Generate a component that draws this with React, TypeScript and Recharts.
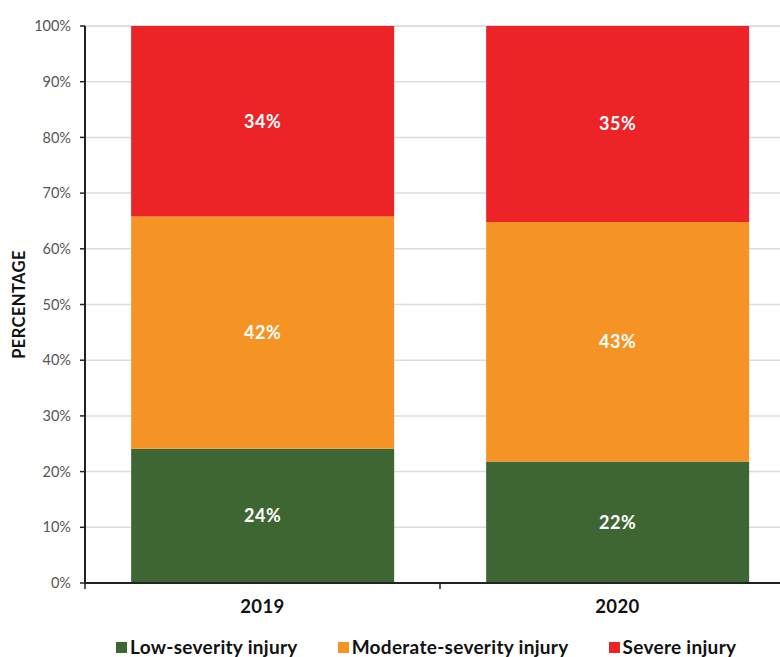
import * as React from "react"
import { Bar, BarChart, CartesianGrid, LabelList, Legend, XAxis, YAxis } from "recharts"

const years = ["2019", "2020"]
const lowSeverity = [24.1, 21.8]
const moderateSeverity = [41.7, 43.0]
const severe = [34.2, 35.2]
const yTicks = [0, 10, 20, 30, 40, 50, 60, 70, 80, 90, 100]

const seriesNames = ["Low-severity injury", "Moderate-severity injury", "Severe injury"]
const seriesColors = ["#3E6633", "#F59324", "#EC2327"]

const FONT = "Lato, 'Open Sans', sans-serif"

const data = years.map((year, i) => ({
  year,
  low: lowSeverity[i],
  moderate: moderateSeverity[i],
  severe: severe[i],
}))

// category label in the middle, tick mark on the band boundary
const YearTick = (props: any) => {
  const { x, y, payload } = props
  const off = payload && typeof payload.offset === "number" ? payload.offset : 177.5
  return (
    <g>
      <line x1={x - off} x2={x - off} y1={y} y2={y + 6} stroke="#222" strokeWidth={1.5} />
      <text
        x={x}
        y={y + 30}
        textAnchor="middle"
        fill="#111"
        fontSize={18.5}
        fontWeight={700}
        fontFamily={FONT}
        letterSpacing={0.4}
      >
        {payload.value}
      </text>
    </g>
  )
}

const LegendContent = () => (
  <div
    style={{
      display: "flex",
      height: 34,
      paddingTop: 14,
      paddingLeft: 116,
      boxSizing: "border-box",
      fontFamily: FONT,
      fontWeight: 700,
      fontSize: 19,
      letterSpacing: 0.3,
      lineHeight: "20px",
      color: "#111",
      whiteSpace: "nowrap",
    }}
  >
    {seriesNames.map((name, i) => (
      <div key={name} style={{ display: "flex", alignItems: "center", marginRight: 40 }}>
        <span
          style={{
            display: "inline-block",
            width: 11,
            height: 11,
            background: seriesColors[i],
            marginRight: 3,
          }}
        />
        {name}
      </div>
    ))}
  </div>
)

const pct = (v: any) => `${Math.round(Number(v))}%`

export default function App() {
  const labelStyle = { fill: "#fff", fontSize: 18, fontWeight: 700, fontFamily: FONT, letterSpacing: 0.5 }
  return (
    <div
      style={{
        position: "absolute",
        left: 0,
        top: 0,
        width: 780,
        height: 657,
        overflow: "hidden",
        background: "#fff",
      }}
    >
      <BarChart
        width={800}
        height={657}
        data={data}
        margin={{ top: 26, right: 5, bottom: 0, left: 0 }}
        barCategoryGap="13%"
      >
        <CartesianGrid vertical={false} stroke="#dcdcdc" strokeWidth={1.5} />
        <XAxis
          dataKey="year"
          height={40}
          tickSize={0}
          tickMargin={0}
          tickLine={false}
          axisLine={{ stroke: "#222", strokeWidth: 2 }}
          tick={<YearTick />}
          interval={0}
        />
        <YAxis
          width={85}
          domain={[0, 100]}
          ticks={yTicks}
          interval={0}
          tickFormatter={(v) => `${v}%`}
          tickSize={5}
          tickMargin={9}
          axisLine={{ stroke: "#222", strokeWidth: 2 }}
          tickLine={{ stroke: "#222", strokeWidth: 1.5 }}
          tick={{ fill: "#555", fontSize: 14.5, fontFamily: FONT }}
          label={{
            value: "PERCENTAGE",
            angle: -90,
            position: "insideLeft",
            offset: 19,
            style: {
              textAnchor: "middle",
              fill: "#111",
              fontSize: 16.5,
              fontWeight: 700,
              letterSpacing: 0.4,
              fontFamily: FONT,
            },
          }}
        />
        <Legend verticalAlign="bottom" align="left" content={<LegendContent />} />
        <Bar dataKey="low" name={seriesNames[0]} stackId="a" fill={seriesColors[0]} isAnimationActive={false}>
          <LabelList dataKey="low" position="center" formatter={pct} style={labelStyle} />
        </Bar>
        <Bar dataKey="moderate" name={seriesNames[1]} stackId="a" fill={seriesColors[1]} isAnimationActive={false}>
          <LabelList dataKey="moderate" position="center" formatter={pct} style={labelStyle} />
        </Bar>
        <Bar dataKey="severe" name={seriesNames[2]} stackId="a" fill={seriesColors[2]} isAnimationActive={false}>
          <LabelList dataKey="severe" position="center" formatter={pct} style={labelStyle} />
        </Bar>
      </BarChart>
    </div>
  )
}
